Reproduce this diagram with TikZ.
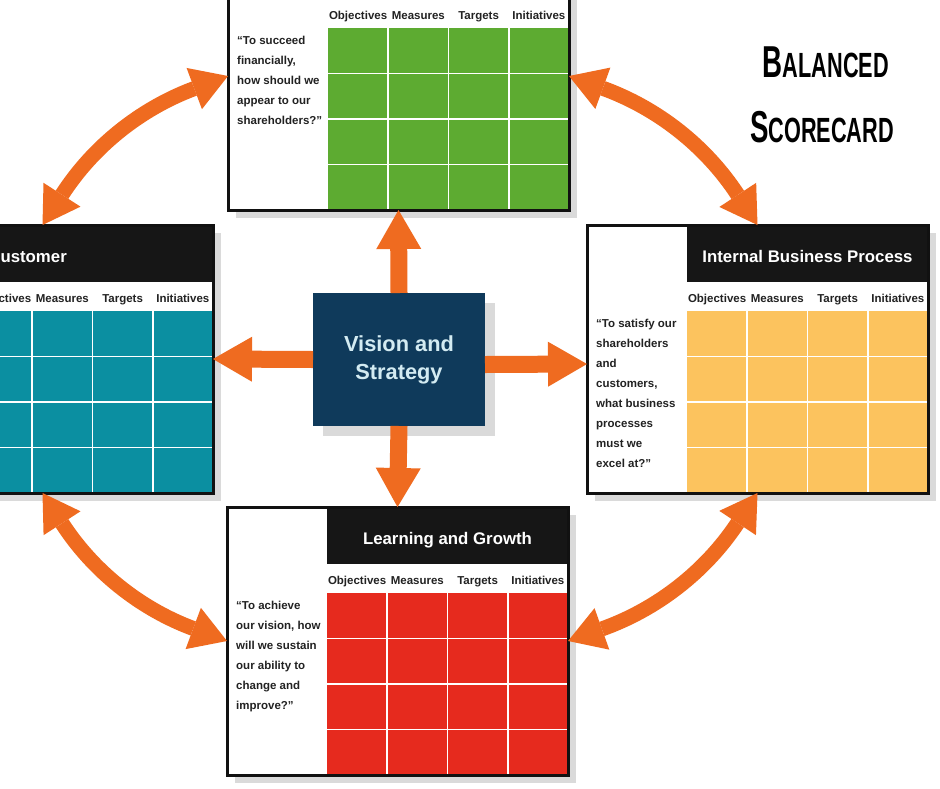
\documentclass[tikz,border=0pt]{standalone}
\usepackage{fontspec}
\setmainfont{Liberation Sans}
\newfontfamily\titlefont[FakeStretch=0.62]{Liberation Sans}
\usetikzlibrary{arrows.meta}
\definecolor{arrowor}{HTML}{EF6B20}
\definecolor{cardgreen}{HTML}{5DAB31}
\definecolor{cardteal}{HTML}{0B8FA1}
\definecolor{cardyellow}{HTML}{FCC35E}
\definecolor{cardred}{HTML}{E62A1E}
\definecolor{vsnavy}{HTML}{0F3A5B}
\definecolor{vstext}{HTML}{D3EBF2}
\definecolor{cardblack}{HTML}{161616}
\definecolor{cardline}{HTML}{111111}
\definecolor{shadowgray}{HTML}{DADADA}
\definecolor{txtgray}{HTML}{222222}
\tikzset{
  cardbox/.style={rectangle, fill=white, draw=cardline, line width=3pt, minimum width=341pt, minimum height=268pt, inner sep=0pt, outer sep=0pt, anchor=north west},
  gridline/.style={draw=white, line width=1.8pt},
  colhead/.style={font=\bfseries\fontsize{11.5}{13}\selectfont, text=txtgray, anchor=base, inner sep=0pt},
  cardtitle/.style={font=\bfseries\fontsize{16.8}{19}\selectfont, text=white, anchor=base, inner sep=0pt},
  question/.style={font=\bfseries\fontsize{11.5}{20}\selectfont, text=txtgray, align=left, anchor=north west, inner sep=0pt},
  vsbox/.style={rectangle, fill=vsnavy, minimum width=172pt, minimum height=133pt, inner sep=0pt, outer sep=0pt, text=vstext, align=center, font=\bfseries\fontsize{21.8}{28}\selectfont},
  blockarrow/.style={draw=arrowor, line width=17pt, -{Triangle[width=45pt,length=39pt,line width=0pt]}},
  curvearrow/.style={draw=arrowor, line width=15pt, {Triangle[width=44pt,length=36pt,line width=0pt]}-{Triangle[width=44pt,length=36pt,line width=0pt]}},
  bigtitle/.style={font=\titlefont\bfseries, text=black, anchor=base, inner sep=0pt}
}
\newcommand\scard[6]{%
  \fill[shadowgray] (#2+8,#3+8) rectangle ++(341,268);
  \node[cardbox] (#1) at (#2,#3) {};
  \fill[cardblack] (#2+100,#3) rectangle (#2+341,#3+57);
  \fill[#4] (#2+100,#3+86) rectangle (#2+341,#3+268);
  \foreach \k in {1,2,3} {
    \draw[gridline] (#2+100+60.25*\k,#3+86) -- (#2+100+60.25*\k,#3+268);
    \draw[gridline] (#2+100,#3+86+45.5*\k) -- (#2+341,#3+86+45.5*\k);
  }
  \foreach \w [count=\k from 0] in {Objectives,Measures,Targets,Initiatives}
    \node[colhead] (#1h\k) at (#2+130.1+60.25*\k,#3+77) {\w};
  \node[cardtitle] (#1t) at (#2+220.5,#3+37) {#5};
  \node[question] (#1q) at (#2+9,#3+93.5) {#6};
  \draw[cardline, line width=3pt] (#2,#3) rectangle ++(341,268);
}
\begin{document}
\begin{tikzpicture}[x=1pt, y=-1pt]
\useasboundingbox (0,0) rectangle (940,788);
\clip (0,0) rectangle (940,788);
\fill[white] (0,0) rectangle (940,788);

% cards
\scard{fin}{228}{-58}{cardgreen}{}{``To succeed\\financially,\\how should we\\appear to our\\shareholders?''}
\scard{cus}{-128}{225}{cardteal}{}{}
\node[cardtitle, anchor=base east] (cust) at (67,262) {Customer};
\scard{ibp}{587}{225}{cardyellow}{Internal Business Process}{``To satisfy our\\shareholders\\and\\customers,\\what business\\processes\\must we\\excel at?''}
\scard{lg}{227}{507}{cardred}{Learning and Growth}{``To achieve\\our vision, how\\will we sustain\\our ability to\\change and\\improve?''}

% center box
\fill[shadowgray] (323,302.5) rectangle (495,435.5);
\node[vsbox] (vs) at (399,359.5) {\raisebox{-2pt}{Vision and}\\\raisebox{-2pt}{Strategy}};

% straight arrows
\draw[blockarrow] (vs.north) -- (fin.south);
\draw[blockarrow] (vs.south) -- (lg.north);
\draw[blockarrow] (vs.west) -- (cus.east);
\draw[blockarrow] ([yshift=-5pt]vs.east) -- ([yshift=-5pt]ibp.west);

% curved double arrows
\draw[curvearrow] (cus.north) .. controls (93,146.6) and (140.5,108.6) .. (fin.west);
\draw[curvearrow] (fin.east) .. controls (657.7,108.2) and (705.8,146.1) .. (ibp.north);
\draw[curvearrow] (cus.south) .. controls (92.8,570.8) and (140,608.7) .. (lg.west);
\draw[curvearrow] (lg.east) .. controls (656.9,609.3) and (705.4,571.6) .. (ibp.south);

% title
\node[bigtitle] (title1) at (826,77) {\fontsize{44.7}{50}\selectfont B\fontsize{35}{40}\selectfont ALANCED};
\node[bigtitle] (title2) at (822,142) {\fontsize{44.7}{50}\selectfont S\fontsize{35}{40}\selectfont CORECARD};
\end{tikzpicture}
\end{document}
